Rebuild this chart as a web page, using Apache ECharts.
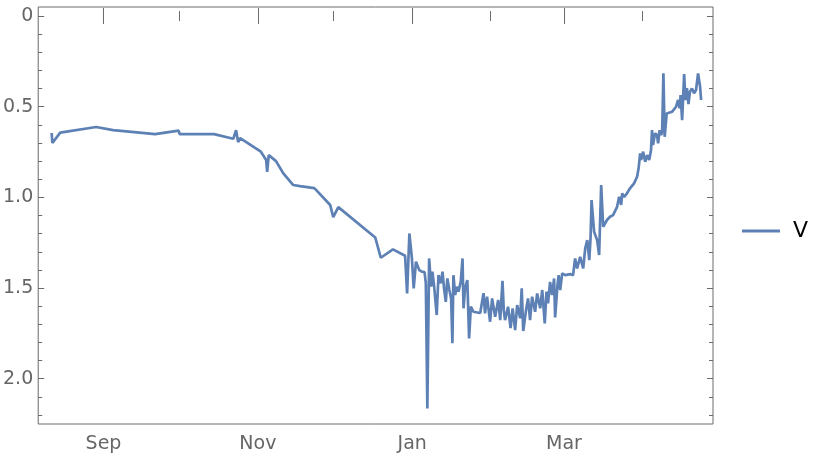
<!DOCTYPE html>
<html>
<head>
<meta charset="utf-8">
<script src="https://cdn.jsdelivr.net/npm/echarts@6/dist/echarts.min.js"></script>
<style>
html,body{margin:0;padding:0;background:#fff;}
#c{width:822px;height:456px;}
</style>
</head>
<body>
<div id="c"></div>
<script>
// Days since 2019-09-01 for each observation
const dayOffsets = [
-20.5,-20.2,-17.1,-2.9,3.8,20.4,21.0,29.7,30.1,43.7,44.1,51.3,52.4,53.2,54.0,62.2,64.3,64.7,65.3,68.2,
71.0,75.0,77.7,83.3,84.1,89.6,90.8,92.8,107.4,109.6,114.4,119.2,120.0,120.9,121.9,122.6,123.5,124.8,125.8,126.9,
127.4,128.0,128.7,129.5,130.0,130.7,131.7,132.4,133.3,134.0,134.6,135.3,135.9,136.7,137.4,137.9,138.3,139.0,139.7,140.3,
141.2,141.9,142.3,142.9,143.8,144.5,145.2,146.2,148.9,150.2,150.8,151.6,152.8,153.6,154.8,156.0,156.8,157.7,158.2,158.7,
159.9,160.9,161.7,162.7,163.5,164.7,165.3,165.9,167.0,167.8,168.6,169.4,170.6,171.4,172.6,173.4,174.4,175.1,175.7,176.5,
177.3,178.1,178.5,179.4,179.9,180.5,181.3,182.5,184.4,185.6,186.4,187.2,188.4,189.6,190.4,191.2,192.0,192.5,192.9,193.9,
195.1,195.9,196.7,197.5,199.0,200.2,201.4,203.0,203.8,204.6,205.0,205.8,206.9,208.1,209.7,210.9,211.5,212.1,212.5,213.3,
214.1,214.9,215.7,216.4,216.8,217.2,218.0,218.8,219.2,219.8,220.4,220.8,221.3,221.8,222.2,222.6,224.7,226.3,227.1,227.7,
228.1,228.7,229.5,230.0,230.6,231.2,231.8,232.6,233.4,234.2,235.0,235.8,236.2
];
const values = [
0.645,0.700,0.643,0.612,0.629,0.651,0.662,0.632,0.651,0.651,0.662,0.677,0.629,0.695,0.673,0.748,0.794,0.860,0.767,0.800,
0.866,0.932,0.938,0.949,0.960,1.042,1.109,1.054,1.221,1.333,1.287,1.322,1.530,1.199,1.337,1.502,1.355,1.401,1.410,1.412,
1.474,2.164,1.337,1.493,1.410,1.493,1.649,1.429,1.474,1.410,1.502,1.576,1.447,1.511,1.557,1.805,1.429,1.539,1.493,1.520,
1.466,1.337,1.612,1.502,1.456,1.778,1.603,1.631,1.638,1.528,1.640,1.548,1.686,1.557,1.659,1.566,1.677,1.460,1.622,1.677,
1.603,1.721,1.612,1.732,1.594,1.666,1.502,1.737,1.622,1.557,1.677,1.548,1.631,1.530,1.612,1.511,1.695,1.520,1.585,1.466,
1.539,1.447,1.662,1.489,1.429,1.511,1.419,1.429,1.423,1.429,1.337,1.392,1.328,1.392,1.281,1.236,1.346,1.224,1.015,1.190,
1.236,1.318,0.932,1.162,1.125,1.107,1.098,1.052,0.997,1.042,0.978,0.997,0.978,0.950,0.923,0.886,0.840,0.757,0.794,0.748,
0.804,0.767,0.794,0.739,0.629,0.711,0.647,0.656,0.702,0.629,0.656,0.638,0.316,0.666,0.601,0.537,0.528,0.500,0.463,0.509,
0.436,0.574,0.320,0.463,0.397,0.485,0.417,0.399,0.426,0.408,0.316,0.390,0.463
];
const seriesName = 'V';
const labeledMonths = ['2019-09-01','2019-11-01','2020-01-01','2020-03-01'];
const unlabeledMonths = ['2019-10-01','2019-12-01','2020-02-01','2020-04-01'];
const monthNames = ['Jan','Feb','Mar','Apr','May','Jun','Jul','Aug','Sep','Oct','Nov','Dec'];
const yMajorTicks = [0, 0.5, 1.0, 1.5, 2.0];
const yMinorTicks = [0.1,0.2,0.3,0.4,0.6,0.7,0.8,0.9,1.1,1.2,1.3,1.4,1.6,1.7,1.8,1.9,2.1,2.2];

const DAY = 86400000;
function parseDate(s){ const p = s.split('-').map(Number); return new Date(p[0], p[1]-1, p[2]).getTime(); }
const base = parseDate('2019-09-01');
const data = dayOffsets.map((d,i)=>[base + d*DAY, values[i]]);
const xMin = base - 25.8*DAY, xMax = base + 240.9*DAY;
const majX = labeledMonths.map(parseDate), minX = unlabeledMonths.map(parseDate);

const gray = '#6a6a6a';
const tickStyle = {color: gray, width: 1};
const font = 'DejaVu Sans';

function xAx(pos, vals, len, labels){
  return {type:'value', position:pos, min:xMin, max:xMax, scale:true, splitLine:{show:false}, axisLine:{show:false},
    axisTick:{show:true, inside:true, length:len, customValues:vals, lineStyle:tickStyle},
    axisLabel:labels ? {show:true, customValues:vals, color:'#666', fontSize:19, fontFamily:font, margin:11,
      formatter:(v)=>monthNames[new Date(v).getMonth()]} : {show:false}};
}
function yAx(pos, vals, len, labels){
  return {type:'value', position:pos, min:-0.05, max:2.25, inverse:true, splitLine:{show:false}, axisLine:{show:false},
    axisTick:{show:true, inside:true, length:len, customValues:vals, lineStyle:tickStyle},
    axisLabel:labels ? {show:true, customValues:vals, color:'#666', fontSize:19, fontFamily:font, margin:5,
      formatter:(v)=> v === 0 ? '0' : v.toFixed(1)} : {show:false}};
}

const chart = echarts.init(document.getElementById('c'), null, {renderer:'canvas'});
chart.setOption({
  animation:false,
  backgroundColor:'#fff',
  grid:{left:38, right:109, top:7, bottom:32, show:true, borderColor:gray, borderWidth:1, backgroundColor:'transparent'},
  xAxis:[xAx('bottom', majX, 8, true), xAx('bottom', minX, 5, false), xAx('top', majX, 8, false), xAx('top', minX, 5, false)],
  yAxis:[yAx('left', yMajorTicks, 6, true), yAx('left', yMinorTicks, 4, false), yAx('right', yMajorTicks, 6, false), yAx('right', yMinorTicks, 4, false)],
  legend:{show:true, orient:'vertical', left:737, top:215, icon:'rect', itemWidth:38, itemHeight:3,
    textStyle:{color:'#000', fontSize:22, fontFamily:font, padding:[0,0,0,8]}, data:[seriesName]},
  series:[{name:seriesName, type:'line', data:data, showSymbol:false, symbol:'none', xAxisIndex:0, yAxisIndex:0,
    lineStyle:{color:'#5E81B5', width:2.7}, itemStyle:{color:'#5E81B5'}}]
});
</script>
</body>
</html>
